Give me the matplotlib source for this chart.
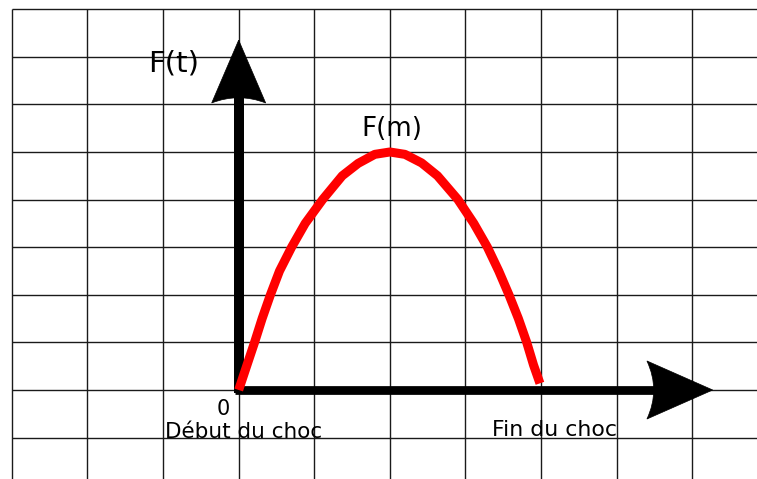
import matplotlib
matplotlib.use("Agg")
import matplotlib.pyplot as plt
from matplotlib.path import Path
from matplotlib.patches import PathPatch

# ---- data (in grid units: 1 unit = one grid square) ----
time = [0, 0.11, 0.21, 0.31, 0.42, 0.54, 0.70, 0.88, 1.11, 1.37, 1.58, 1.80,
        2.0, 2.20, 2.42, 2.63, 2.90, 3.11, 3.29, 3.44, 3.575, 3.70, 3.81, 3.90, 3.985]
force = [0, 0.525, 1.0, 1.5, 2.0, 2.5, 3.0, 3.5, 4.0, 4.5, 4.76, 4.95,
         5.0, 4.95, 4.77, 4.5, 4.0, 3.5, 3.0, 2.5, 2.0, 1.5, 1.0, 0.525, 0.14]
grid_x = list(range(-3, 7))
grid_y = list(range(-1, 9))
peak_label = "F(m)"
y_label = "F(t)"
origin_label = "0"
start_label = "Début du choc"
end_label = "Fin du choc"

W, H, DPI = 757, 479, 100
fig = plt.figure(figsize=(W / DPI, H / DPI), dpi=DPI)
ax = fig.add_axes([0, 0, 1, 1])
ax.set_xlim(-3.157, 6.856)
ax.set_ylim(-1.87, 8.193)
ax.axis("off")

# grid
gc = "#1a1a1a"
ax.vlines(grid_x, ax.get_ylim()[0], grid_y[-1], colors=gc, lw=1.0, zorder=1)
ax.hlines(grid_y, grid_x[0], ax.get_xlim()[1], colors=gc, lw=1.0, zorder=1)

# axes arrows (shafts)
ax.plot([0, 0], [-0.06, 6.2], color="black", lw=7.2, solid_capstyle="butt", zorder=3)
ax.plot([-0.05, 5.5], [0, 0], color="black", lw=6.3, solid_capstyle="butt", zorder=3)

# arrow heads with concave back
def head(tip, left, right, back):
    verts = [tip, left, back, right, tip]
    codes = [Path.MOVETO, Path.LINETO, Path.CURVE3, Path.CURVE3, Path.CLOSEPOLY]
    return PathPatch(Path(verts, codes), facecolor="black", edgecolor="black", lw=0.5, zorder=4)

ax.add_patch(head((0, 7.35), (-0.357, 6.03), (0.357, 6.03), (0, 6.25)))
ax.add_patch(head((6.27, 0), (5.40, 0.61), (5.40, -0.61), (5.58, 0)))

# force curve
ax.plot(time, force, color="#ff0000", lw=6.5, solid_capstyle="butt",
        solid_joinstyle="round", zorder=5)

# labels
fam = ["DejaVu Sans"]
ax.text(-0.854, 6.85, y_label, fontsize=21, ha="center", va="center", family=fam, zorder=6)
ax.text(2.028, 5.48, peak_label, fontsize=18.8, ha="center", va="center", family=fam, zorder=6)
ax.text(-0.208, -0.40, origin_label, fontsize=15, ha="center", va="center", family=fam, zorder=6)
ax.text(0.070, -0.88, start_label, fontsize=15.5, ha="center", va="center", family=fam, zorder=6)
ax.text(4.18, -0.85, end_label, fontsize=15.8, ha="center", va="center", family=fam, zorder=6)

fig.savefig("out.png", dpi=DPI, facecolor="white")
